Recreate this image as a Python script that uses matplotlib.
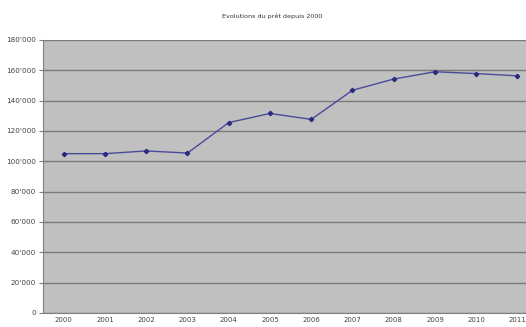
import matplotlib
matplotlib.use("Agg")
import matplotlib.pyplot as plt
from matplotlib.ticker import FuncFormatter

# data
years = ['2000', '2001', '2002', '2003', '2004', '2005', '2006', '2007', '2008', '2009', '2010', '2011']
values = [105000, 105000, 106800, 105400, 125500, 131500, 127600, 146800, 154200, 159000, 157800, 156300]
yticks = [0, 20000, 40000, 60000, 80000, 100000, 120000, 140000, 160000, 180000]

fig = plt.figure(figsize=(5.26, 3.27), dpi=100)
ax = fig.add_axes([0.082, 0.043, 0.941, 0.835])
ax.set_facecolor('#c0c0c0')

x = list(range(len(years)))
ax.plot(x, values, color='#4a4a9a', linewidth=1.0, marker='D', markersize=2.2,
        markerfacecolor='#2a2a80', markeredgecolor='#2a2a80')

ax.set_xlim(-0.5, len(years) - 0.5)
ax.set_ylim(0, 180000)
ax.set_yticks(yticks)
ax.yaxis.set_major_formatter(FuncFormatter(lambda v, p: '0' if v == 0 else "{:,}".format(int(v)).replace(',', "'")))
ax.set_xticks(x)
ax.set_xticklabels(years)
ax.grid(axis='y', color='#7a7a7a', linewidth=1.0)
ax.set_axisbelow(True)

for s in ['top', 'right']:
    ax.spines[s].set_visible(False)
ax.spines['left'].set_color('#808080')
ax.spines['bottom'].set_color('#808080')
ax.tick_params(axis='y', labelsize=5.2, colors='#808080', labelcolor='#444444', length=3, width=0.8, pad=2)
ax.tick_params(axis='x', labelsize=5.0, length=0, pad=3, labelcolor='#444444')

fig.text(0.518, 0.95, 'Evolutions du prêt depuis 2000', ha='center', va='center', fontsize=4.6, color='#333333')

fig.savefig('out.png', dpi=100)
